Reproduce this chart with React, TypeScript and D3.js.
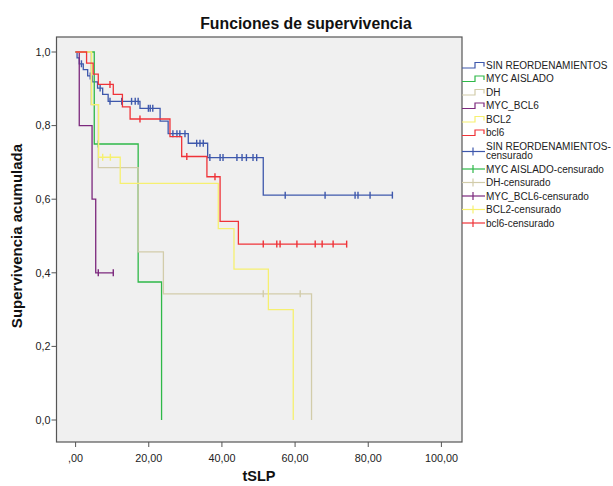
import React from "react";
import * as d3 from "d3";

// Kaplan-Meier curves for tSLP by rearrangement group
const groupNames = ["SIN REORDENAMIENTOS", "MYC AISLADO", "DH", "MYC_BCL6", "BCL2", "bcl6"];
const groupColors = ["#3E58AC", "#2EB848", "#D2CCAA", "#7C287D", "#F6F070", "#EF3338"];

// SIN REORDENAMIENTOS
const sinReordEventos: [number, number][] = [
  [0.4, 0.984], [1.0, 0.968], [2.1, 0.952], [3.3, 0.935], [4.6, 0.919], [6.0, 0.902],
  [7.4, 0.885], [8.9, 0.866], [17.6, 0.847], [23.1, 0.812], [25.3, 0.778], [30.8, 0.752],
  [36.1, 0.713], [51.3, 0.611],
];
const sinReordCensuras = [
  1.6, 4.0, 6.7, 9.4, 12.6, 15.3, 16.3, 17.1, 19.9, 20.4, 21.1, 26.6, 27.7, 28.5, 29.9,
  33.1, 34.0, 34.9, 36.7, 39.5, 40.3, 44.1, 45.5, 46.7, 48.5, 49.5, 57.3, 68.2, 76.4, 77.2,
  80.5, 86.6,
];

// MYC AISLADO
const mycAisladoEventos: [number, number][] = [[5.1, 0.75], [17.1, 0.375], [23.5, 0]];
const mycAisladoCensuras = [6.2];

// DH
const dhEventos: [number, number][] = [[4.2, 0.857], [6.2, 0.686], [17.1, 0.457], [24.0, 0.343], [64.5, 0]];
const dhCensuras = [51.3, 61.4];

// MYC_BCL6
const mycBcl6Eventos: [number, number][] = [[1.0, 0.8], [4.5, 0.6], [5.5, 0.4]];
const mycBcl6Censuras = [6.2, 10.3];

// BCL2
const bcl2Eventos: [number, number][] = [
  [4.4, 0.857], [6.3, 0.714], [12.2, 0.643], [39.0, 0.52], [43.3, 0.41], [52.7, 0.3], [59.5, 0],
];
const bcl2Censuras = [7.4, 9.5];

// bcl6
const bcl6Eventos: [number, number][] = [
  [3.0, 0.97], [4.8, 0.94], [6.2, 0.912], [10.3, 0.885], [12.8, 0.851], [14.9, 0.818],
  [25.8, 0.77], [29.0, 0.716], [35.9, 0.661], [39.5, 0.54], [44.5, 0.478],
];
const bcl6Censuras = [9.4, 17.6, 30.4, 38.1, 51.3, 55.0, 55.9, 60.5, 65.5, 67.4, 70.4, 74.1];

const xTicks = [0, 20, 40, 60, 80, 100];
const yTicks = [0, 0.2, 0.4, 0.6, 0.8, 1.0];

const legendLabels = [
  ["SIN REORDENAMIENTOS"], ["MYC AISLADO"], ["DH"], ["MYC_BCL6"], ["BCL2"], ["bcl6"],
  ["SIN REORDENAMIENTOS-", "censurado"], ["MYC AISLADO-censurado"], ["DH-censurado"],
  ["MYC_BCL6-censurado"], ["BCL2-censurado"], ["bcl6-censurado"],
];

const series = [
  { eventos: sinReordEventos, censuras: sinReordCensuras },
  { eventos: mycAisladoEventos, censuras: mycAisladoCensuras },
  { eventos: dhEventos, censuras: dhCensuras },
  { eventos: mycBcl6Eventos, censuras: mycBcl6Censuras },
  { eventos: bcl2Eventos, censuras: bcl2Censuras },
  { eventos: bcl6Eventos, censuras: bcl6Censuras },
].map((s, i) => ({ ...s, nombre: groupNames[i], color: groupColors[i] }));

const W = 613;
const H = 486;
const frame = { left: 56.5, right: 462, top: 37, bottom: 442 };

const x = d3.scaleLinear().domain([0, 100]).range([75.6, 441.4]);
const y = d3.scaleLinear().domain([0, 1]).range([420, 52]);

const FONT = "'Liberation Sans', Arial, sans-serif";

function survivalAt(eventos: [number, number][], t: number) {
  let s = 1;
  for (const [et, es] of eventos) if (et <= t) s = es;
  return s;
}

function stepPoints(eventos: [number, number][], censuras: number[]) {
  const pts: [number, number][] = [[0, 1], ...eventos];
  const last = eventos[eventos.length - 1];
  const fin = Math.max(last[0], ...censuras);
  if (fin > last[0]) pts.push([fin, last[1]]);
  return pts;
}

const stepLine = d3
  .line<[number, number]>()
  .x((d) => x(d[0]))
  .y((d) => y(d[1]))
  .curve(d3.curveStepAfter);

const fmtX = (v: number) => (v === 0 ? ",00" : v.toFixed(2).replace(".", ","));
const fmtY = (v: number) => v.toFixed(1).replace(".", ",");

export default function App() {
  const legendX = frame.right;
  const rowY = (i: number) => (i < 7 ? 65 + 13.5 * i : 169 + 13.5 * (i - 7));
  const symY = (i: number) => (i === 6 ? 151.5 : rowY(i));

  return (
    <svg
      width={W}
      height={H}
      style={{ position: "absolute", left: 0, top: 0, background: "#fff" }}
      fontFamily={FONT}
    >
      <rect x={0} y={0} width={W} height={H} fill="#ffffff" />
      <text x={306} y={29} textAnchor="middle" fontSize={15.8} fontWeight="bold" fill="#111">
        Funciones de supervivencia
      </text>

      {/* plot area */}
      <rect
        x={frame.left}
        y={frame.top}
        width={frame.right - frame.left}
        height={frame.bottom - frame.top}
        fill="#f0f0f0"
        stroke="#555"
        strokeWidth={1.2}
      />

      {/* y axis */}
      {yTicks.map((v) => (
        <g key={"y" + v}>
          <line x1={frame.left - 5} x2={frame.left} y1={y(v)} y2={y(v)} stroke="#555" />
          <text x={frame.left - 6} y={y(v) + 3.8} textAnchor="end" fontSize={10.8} fill="#222">
            {fmtY(v)}
          </text>
        </g>
      ))}
      {/* x axis */}
      {xTicks.map((v) => (
        <g key={"x" + v}>
          <line x1={x(v)} x2={x(v)} y1={frame.bottom} y2={frame.bottom + 5} stroke="#555" />
          <text x={x(v)} y={462} textAnchor="middle" fontSize={10.8} fill="#222">
            {fmtX(v)}
          </text>
        </g>
      ))}
      <text x={259} y={481} textAnchor="middle" fontSize={14.5} fontWeight="bold" fill="#111">
        tSLP
      </text>
      <text
        transform={`translate(22,236) rotate(-90)`}
        textAnchor="middle"
        fontSize={15}
        fontWeight="bold"
        fill="#111"
      >
        Supervivencia acumulada
      </text>

      {/* survival curves */}
      {series.map((s) => (
        <g key={s.nombre}>
          <path
            d={stepLine(stepPoints(s.eventos, s.censuras)) || ""}
            fill="none"
            stroke={s.color}
            strokeWidth={1.3}
          />
          {s.censuras.map((t, j) => {
            const cx = x(t);
            const cy = y(survivalAt(s.eventos, t));
            return (
              <line
                key={j}
                x1={cx}
                x2={cx}
                y1={cy - 3.5}
                y2={cy + 3.5}
                stroke={s.color}
                strokeWidth={1.4}
              />
            );
          })}
        </g>
      ))}

      {/* legend */}
      {legendLabels.map((lines, i) => {
        const color = groupColors[i % 6];
        const cy = symY(i);
        return (
          <g key={"lg" + i}>
            {i < 6 ? (
              <path
                d={`M${legendX},${cy + 3}H${legendX + 13}V${cy - 2.5}H${legendX + 22}V${cy + 1.5}`}
                fill="none"
                stroke={color}
                strokeWidth={1.2}
              />
            ) : (
              <g stroke={color} strokeWidth={1.2}>
                <line x1={legendX} x2={legendX + 23} y1={cy} y2={cy} />
                <line x1={legendX + 11} x2={legendX + 11} y1={cy - 4} y2={cy + 4} />
              </g>
            )}
            {lines.map((t, k) => (
              <text key={k} x={486} y={rowY(i) + 3.5 + k * 9.5} fontSize={10} fill="#222">
                {t}
              </text>
            ))}
          </g>
        );
      })}
    </svg>
  );
}
